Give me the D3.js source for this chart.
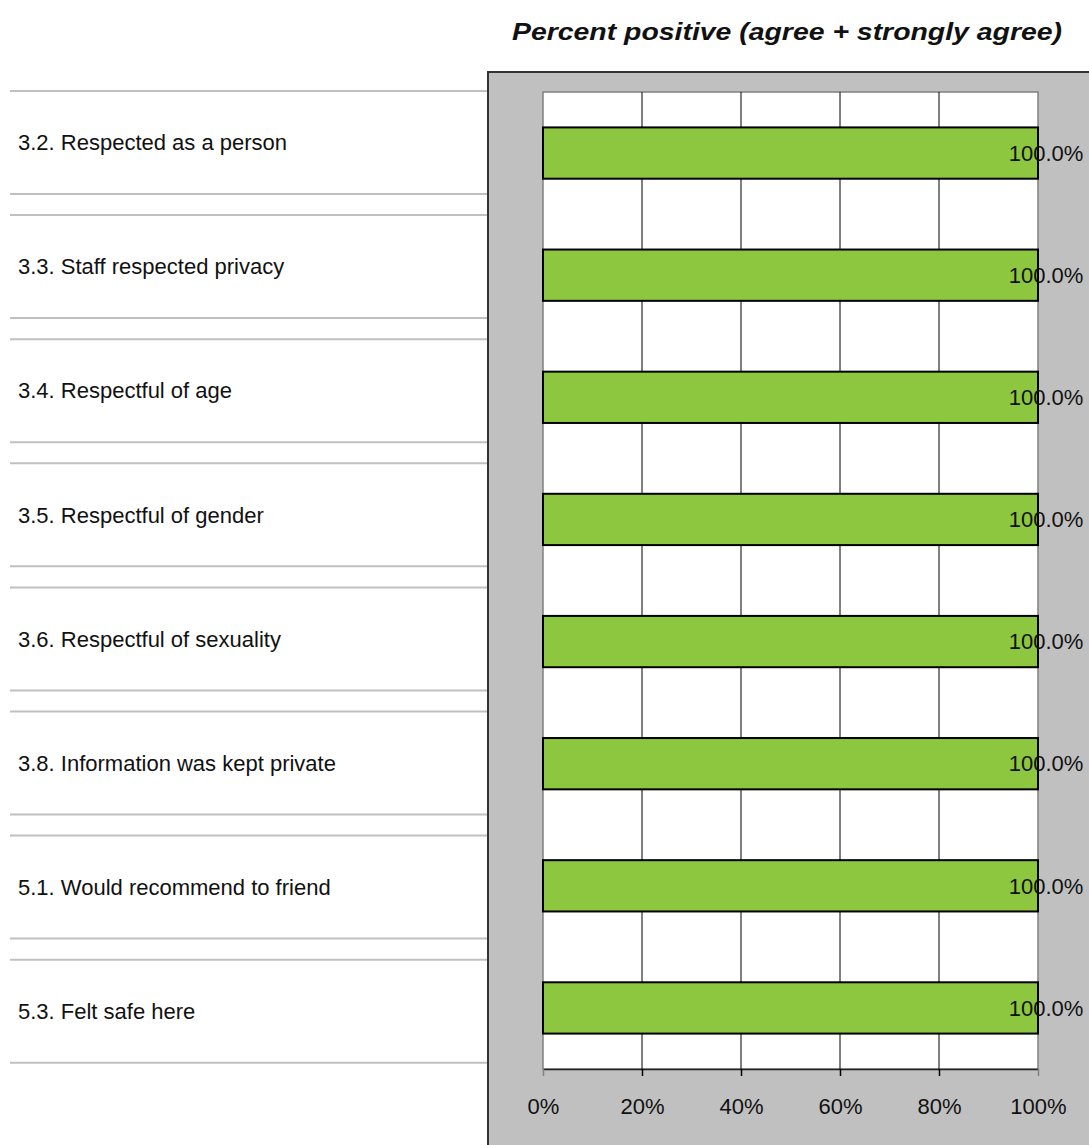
<!DOCTYPE html>
<html>
<head>
<meta charset="utf-8">
<script src="https://cdn.jsdelivr.net/npm/d3@7"></script>
<style>
  html, body { margin: 0; padding: 0; background: #ffffff; }
  svg { display: block; }
</style>
</head>
<body>
<script>
// Survey items and their percent positive (agree + strongly agree)
const categories = [
  "3.2. Respected as a person",
  "3.3. Staff respected privacy",
  "3.4. Respectful of age",
  "3.5. Respectful of gender",
  "3.6. Respectful of sexuality",
  "3.8. Information was kept private",
  "5.1. Would recommend to friend",
  "5.3. Felt safe here"
];
const values = [100, 100, 100, 100, 100, 100, 100, 100];
const tickValues = [0, 20, 40, 60, 80, 100];
const tickLabels = ["0%", "20%", "40%", "60%", "80%", "100%"];
const titleText = "Percent positive (agree + strongly agree)";

const W = 1089, H = 1145;
const FONT = "Liberation Sans, Arial, sans-serif";
const svg = d3.select("body").append("svg").attr("width", W).attr("height", H);

// Left-hand label table: one bordered row per item
const rowScale = d3.scaleBand().domain(categories).range([91, 91 + 124.1 * 8]);
const rowH = 103;
const rows = svg.append("g");
categories.forEach(c => {
  const y0 = rowScale(c);
  rows.append("line").attr("x1", 10).attr("x2", 488).attr("y1", y0).attr("y2", y0)
    .attr("stroke", "#c0c0c0").attr("stroke-width", 2);
  rows.append("line").attr("x1", 10).attr("x2", 488).attr("y1", y0 + rowH).attr("y2", y0 + rowH)
    .attr("stroke", "#c0c0c0").attr("stroke-width", 2);
  rows.append("text").attr("x", 18).attr("y", y0 + rowH / 2).attr("dy", "0.35em")
    .attr("font-family", FONT).attr("font-size", 22)
    .attr("fill", "#111").text(c);
});

// Chart panel
svg.append("rect").attr("x", 488).attr("y", 72).attr("width", W - 488 + 5).attr("height", H - 72 + 5)
  .attr("fill", "#c0c0c0").attr("stroke", "#333").attr("stroke-width", 2);

// Title, stretched a little to span the chart
svg.append("text").attr("x", 512).attr("y", 32).attr("dy", "0.35em")
  .attr("font-family", FONT).attr("font-size", 24)
  .attr("textLength", 550).attr("lengthAdjust", "spacingAndGlyphs")
  .attr("font-weight", "bold").attr("font-style", "italic").attr("fill", "#111").text(titleText);

const plot = { left: 543, right: 1038, top: 92, bottom: 1069 };
const x = d3.scaleLinear().domain([0, 100]).range([plot.left, plot.right]);
const y = d3.scaleBand().domain(categories).range([plot.top, plot.bottom]).paddingInner(0.58).paddingOuter(0.29);

svg.append("rect").attr("x", plot.left).attr("y", plot.top)
  .attr("width", plot.right - plot.left).attr("height", plot.bottom - plot.top)
  .attr("fill", "#ffffff").attr("stroke", "#808080").attr("stroke-width", 1.5);

// Vertical gridlines
svg.append("g").selectAll("line").data(tickValues.filter(t => t > 0 && t < 100)).join("line")
  .attr("x1", d => x(d)).attr("x2", d => x(d)).attr("y1", plot.top).attr("y2", plot.bottom)
  .attr("stroke", "#000").attr("stroke-width", 1);

// Bottom axis
const axis = d3.axisBottom(x).tickValues(tickValues).tickFormat((d, i) => tickLabels[i])
  .tickSizeInner(7).tickSizeOuter(0).tickPadding(22);
const ax = svg.append("g").attr("transform", `translate(0,${plot.bottom})`).call(axis);
ax.select(".domain").attr("stroke", "#222").attr("stroke-width", 1.5);
ax.selectAll(".tick line").attr("stroke", (d) => (d === 0 || d === 100) ? "#808080" : "#000").attr("stroke-width", 1.5);
ax.selectAll(".tick text").attr("font-family", FONT)
  .attr("font-size", 22).attr("fill", "#111");

// Bars
svg.append("g").selectAll("rect").data(categories).join("rect")
  .attr("x", x(0)).attr("y", d => y(d))
  .attr("width", (d, i) => x(values[i]) - x(0)).attr("height", y.bandwidth())
  .attr("fill", "#8dc63f").attr("stroke", "#000").attr("stroke-width", 2);

// Value labels
svg.append("g").selectAll("text").data(categories).join("text")
  .attr("x", (d, i) => x(values[i]) + 8).attr("y", d => y(d) + y.bandwidth() / 2).attr("dy", "0.35em")
  .attr("text-anchor", "middle").attr("font-family", FONT)
  .attr("font-size", 22).attr("fill", "#111")
  .text((d, i) => values[i].toFixed(1) + "%");
</script>
</body>
</html>
